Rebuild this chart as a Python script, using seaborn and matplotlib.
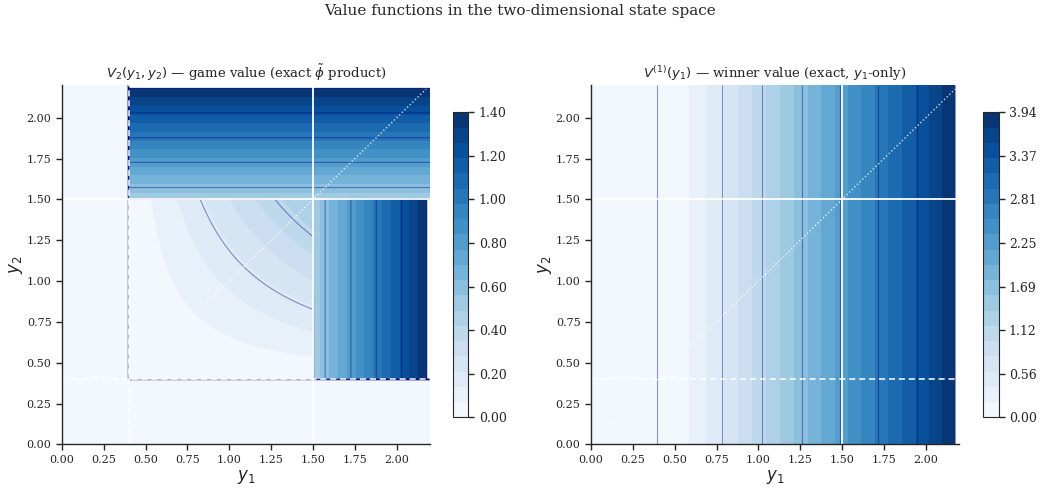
import numpy as np
import matplotlib
matplotlib.use("Agg")
import matplotlib.pyplot as plt
import seaborn as sns

sns.set_theme(style="ticks", context="paper")
plt.rcParams["font.family"] = ["DejaVu Serif"]
plt.rcParams["mathtext.fontset"] = "dejavusans"

# thresholds of the state space
low_cut = 0.4
high_cut = 1.5
axis_max = 2.2

edge_pos = [1.50, 1.573, 1.727, 1.878, 2.030, 2.181, 2.20]
edge_val = [0.504, 0.60, 0.80, 1.00, 1.20, 1.40, 1.425]
# V2 in the inner square ~ coef * (y1 - shift) * (y2 - shift)
inner_coef = 0.40
inner_shift = 0.38

# V1 (winner value) profile along y1
v1_pos = [0.0, 0.396, 0.586, 0.687, 0.781, 1.024, 1.259, 1.490, 1.717, 1.951, 2.176, 2.20]
v1_val = [0.0, 0.0, 0.197, 0.394, 0.5625, 1.125, 1.6875, 2.25, 2.8125, 3.375, 3.937, 4.05]

v2_max = 1.40
v1_max = 3.937


def build_fields():
    g = np.linspace(0, axis_max, 441)
    Y1, Y2 = np.meshgrid(g, g)
    inner = inner_coef * (Y1 - inner_shift) * (Y2 - inner_shift)
    V2 = np.zeros_like(Y1)
    alive = (Y1 >= low_cut) & (Y2 >= low_cut)
    top = alive & (Y2 > high_cut)
    side = alive & (Y2 <= high_cut) & (Y1 > high_cut)
    mid = alive & ~top & ~side
    V2[mid] = inner[mid]
    V2[side] = np.interp(Y1[side], edge_pos, edge_val)
    V2[top] = np.interp(Y2[top], edge_pos, edge_val)
    V1 = np.interp(Y1, v1_pos, v1_val)
    return Y1, Y2, V2, V1


def draw_panel(fig, ax, cax, Y1, Y2, Z, vmax, ticks, title, vline_dash):
    levels = np.linspace(0, vmax, 21)
    cf = ax.contourf(Y1, Y2, Z, levels=levels, cmap="Blues")
    ax.contour(Y1, Y2, Z, levels=ticks, colors="navy", alpha=0.42, linewidths=0.8)
    ax.axvline(high_cut, color="white", lw=1.3)
    ax.axhline(high_cut, color="white", lw=1.3)
    ax.axhline(low_cut, color="white", lw=1.1, ls=(0, (4, 2.5)))
    if vline_dash:
        ax.axvline(low_cut, color="white", lw=1.1, ls=(0, (4, 2.5)))
    ax.plot([0, 2.176], [0, 2.176], color="white", lw=1.0, ls=":", alpha=0.8)
    ax.set_xlim(0, axis_max)
    ax.set_ylim(0, axis_max)
    ax.set_xticks(np.arange(0, 2.01, 0.25))
    ax.set_yticks(np.arange(0, 2.01, 0.25))
    ax.xaxis.set_major_formatter("{x:.2f}")
    ax.yaxis.set_major_formatter("{x:.2f}")
    ax.tick_params(labelsize=8, length=4, width=1)
    ax.set_xlabel("$y_1$", fontsize=12, labelpad=2)
    ax.set_ylabel("$y_2$", fontsize=12, labelpad=1)
    ax.set_title(title, fontsize=9.5, pad=5)
    sns.despine(ax=ax)
    cb = fig.colorbar(cf, cax=cax, ticks=ticks, format="%.2f")
    cb.ax.tick_params(labelsize=9, length=4, width=1)
    cb.outline.set_linewidth(0.8)
    return cb


def main():
    Y1, Y2, V2, V1 = build_fields()
    fig = plt.figure(figsize=(10.4, 4.88), dpi=100)
    ax_l = fig.add_axes([0.0596, 0.0895, 0.354, 0.736])
    ax_r = fig.add_axes([0.5683, 0.0895, 0.354, 0.736])
    cax_l = fig.add_axes([0.4353, 0.1449, 0.0151, 0.625])
    cax_r = fig.add_axes([0.9455, 0.1449, 0.0146, 0.625])

    draw_panel(fig, ax_l, cax_l, Y1, Y2, V2, v2_max, np.linspace(0, v2_max, 8),
               r"$V_2(y_1,y_2)$ — game value (exact $\tilde{\phi}$ product)", True)
    draw_panel(fig, ax_r, cax_r, Y1, Y2, V1, v1_max, np.linspace(0, v1_max, 8),
               r"$V^{(1)}(y_1)$ — winner value (exact, $y_1$-only)", False)

    fig.suptitle("Value functions in the two-dimensional state space", fontsize=11, y=0.992)
    fig.savefig("out.png", dpi=100)
    plt.close(fig)


if __name__ == "__main__":
    main()
